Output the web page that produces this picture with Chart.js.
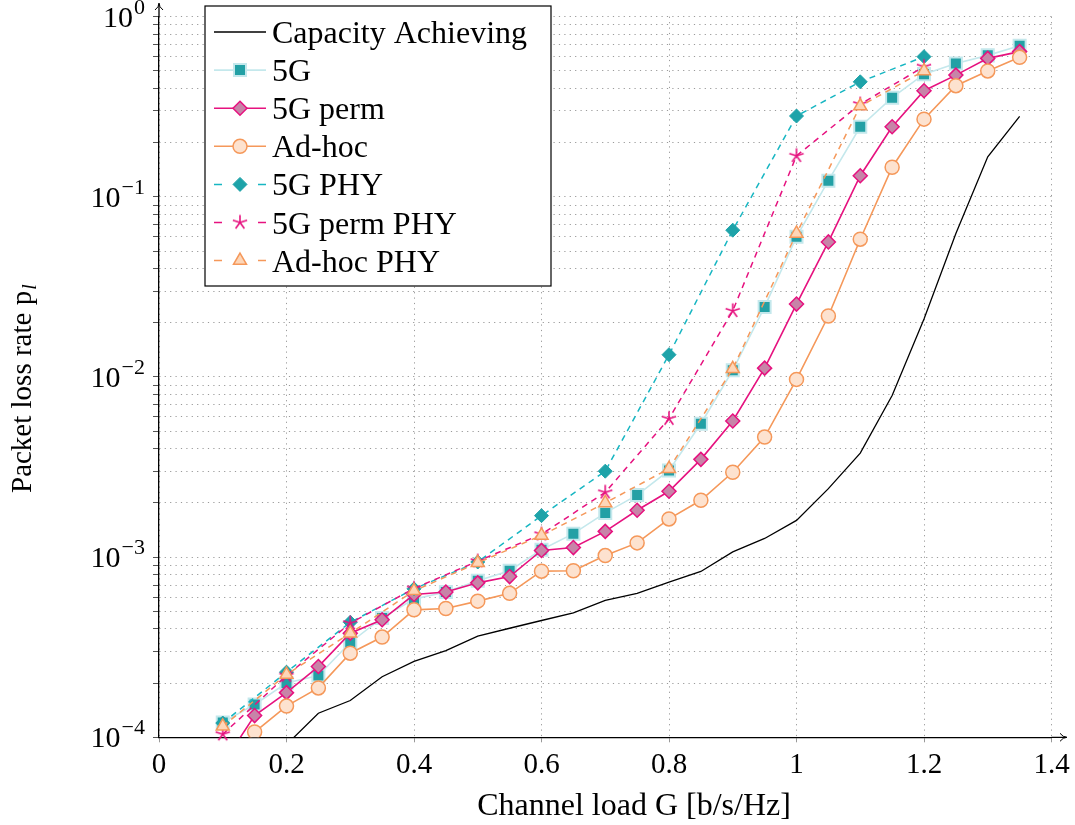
<!DOCTYPE html>
<html>
<head>
<meta charset="utf-8">
<script src="https://cdn.jsdelivr.net/npm/chart.js@4/dist/chart.umd.min.js"></script>
<style>
  html, body { margin: 0; padding: 0; background: #fff; }
</style>
</head>
<body>
<canvas id="lossChart" width="1075" height="825"></canvas>
<script>
// channel load G [b/s/Hz]
const loadG = [0.1, 0.15, 0.2, 0.25, 0.3, 0.35, 0.4, 0.45, 0.5, 0.55, 0.6, 0.65, 0.7,
  0.75, 0.8, 0.85, 0.9, 0.95, 1.0, 1.05, 1.1, 1.15, 1.2, 1.25, 1.3, 1.35];
const loadPhy = [0.1, 0.2, 0.3, 0.4, 0.5, 0.6, 0.7, 0.8, 0.9, 1.0, 1.1, 1.2];
const loadCap = [0.2, 0.25, 0.3, 0.35, 0.4, 0.45, 0.5, 0.55, 0.6, 0.65, 0.7, 0.75,
  0.8, 0.85, 0.9, 0.95, 1.0, 1.05, 1.1, 1.15, 1.2, 1.25, 1.3, 1.35];

// packet loss rate
const capacity = [9.1e-5, 1.36e-4, 1.6e-4, 2.17e-4, 2.64e-4, 3.03e-4, 3.64e-4, 4.03e-4,
  4.45e-4, 4.91e-4, 5.75e-4, 6.3e-4, 7.26e-4, 8.33e-4, 1.07e-3, 1.27e-3, 1.6e-3, 2.4e-3,
  3.78e-3, 7.9e-3, 2.1e-2, 6.26e-2, 0.167, 0.28];
const fiveG = [1.21e-4, 1.52e-4, 2.0e-4, 2.2e-4, 3.36e-4, 4.6e-4, 5.85e-4, 6.4e-4, 7.4e-4,
  8.4e-4, 1.1e-3, 1.35e-3, 1.76e-3, 2.21e-3, 3.03e-3, 5.5e-3, 1.09e-2, 2.45e-2, 0.06,
  0.123, 0.245, 0.355, 0.48, 0.55, 0.61, 0.69];
const fiveGPerm = [7.1e-5, 1.32e-4, 1.77e-4, 2.47e-4, 3.78e-4, 4.49e-4, 6.2e-4, 6.4e-4,
  7.2e-4, 7.8e-4, 1.09e-3, 1.13e-3, 1.39e-3, 1.82e-3, 2.32e-3, 3.49e-3, 5.7e-3, 1.12e-2,
  2.54e-2, 0.0562, 0.131, 0.245, 0.388, 0.474, 0.587, 0.64];
const adHoc = [7e-5, 1.07e-4, 1.49e-4, 1.88e-4, 2.93e-4, 3.6e-4, 5.1e-4, 5.19e-4, 5.7e-4,
  6.3e-4, 8.36e-4, 8.4e-4, 1.02e-3, 1.2e-3, 1.63e-3, 2.07e-3, 2.96e-3, 4.64e-3, 9.7e-3,
  2.18e-2, 0.0582, 0.146, 0.27, 0.414, 0.5, 0.595];
const fiveGPhy = [1.2e-4, 2.3e-4, 4.35e-4, 6.67e-4, 9.4e-4, 1.7e-3, 3.0e-3, 1.33e-2,
  0.0653, 0.281, 0.435, 0.6];
const fiveGPermPhy = [1.04e-4, 2.2e-4, 4.3e-4, 6.7e-4, 9.5e-4, 1.34e-3, 2.29e-3, 5.87e-3,
  2.33e-2, 0.169, 0.327, 0.528];
const adHocPhy = [1.15e-4, 2.23e-4, 3.78e-4, 6.5e-4, 9.3e-4, 1.32e-3, 2.0e-3, 3.1e-3,
  1.11e-2, 0.0626, 0.319, 0.5];

const xTicks = [0, 0.2, 0.4, 0.6, 0.8, 1, 1.2, 1.4];
const yDecades = [-4, -3, -2, -1, 0];

const serif = "'Liberation Serif', 'DejaVu Serif', serif";
const pts = (xs, ys) => xs.map((x, i) => ({ x, y: ys[i] }));

// 5-spoke asterisk like the pgfplots "star" mark
function makeStar(color) {
  const c = document.createElement("canvas");
  c.width = 18; c.height = 18;
  const g = c.getContext("2d");
  g.strokeStyle = color; g.lineWidth = 1.6;
  g.beginPath();
  for (let k = 0; k < 5; k++) {
    const a = -Math.PI / 2 + k * 2 * Math.PI / 5;
    g.moveTo(9, 9);
    g.lineTo(9 + 7.5 * Math.cos(a), 9 + 7.5 * Math.sin(a));
  }
  g.stroke();
  return c;
}
const starMark = makeStar("#e6127f");

const series = [
  { label: "Capacity Achieving", data: pts(loadCap, capacity), borderColor: "#000",
    borderWidth: 1.3, pointRadius: 0 },
  { label: "5G", data: pts(loadG, fiveG), borderColor: "#c4e8ec", borderWidth: 1.6,
    pointStyle: "rect", pointRadius: 8.5, pointBackgroundColor: "#23a0a5",
    pointBorderColor: "#c4e8ec", pointBorderWidth: 2 },
  { label: "5G perm", data: pts(loadG, fiveGPerm), borderColor: "#e6127f", borderWidth: 1.6,
    pointStyle: "rectRot", pointRadius: 7, pointBackgroundColor: "#c784a8",
    pointBorderColor: "#e6127f", pointBorderWidth: 1.5 },
  { label: "Ad-hoc", data: pts(loadG, adHoc), borderColor: "#f5985a", borderWidth: 1.6,
    pointStyle: "circle", pointRadius: 7, pointBackgroundColor: "#fde2cf",
    pointBorderColor: "#f5985a", pointBorderWidth: 1.5 },
  { label: "5G PHY", data: pts(loadPhy, fiveGPhy), borderColor: "#17b6c2", borderWidth: 1.5,
    borderDash: [6, 5], pointStyle: "rectRot", pointRadius: 7,
    pointBackgroundColor: "#1ea3a9", pointBorderColor: "#1ea3a9", pointBorderWidth: 1 },
  { label: "5G perm PHY", data: pts(loadPhy, fiveGPermPhy), borderColor: "#e6127f",
    borderWidth: 1.5, borderDash: [6, 5], pointStyle: starMark, pointRadius: 7,
    pointBackgroundColor: "#e6127f", pointBorderColor: "#e6127f", pointBorderWidth: 1.6 },
  { label: "Ad-hoc PHY", data: pts(loadPhy, adHocPhy), borderColor: "#f5985a",
    borderWidth: 1.5, borderDash: [6, 5], pointStyle: "triangle", pointRadius: 7.5,
    pointBackgroundColor: "#fdd6b8", pointBorderColor: "#f5985a", pointBorderWidth: 1.5 }
];

function drawMark(ctx, ds, x, y) {
  const st = ds.pointStyle, r = ds.pointRadius;
  if (!st || !r) return;
  ctx.save();
  if (st instanceof HTMLCanvasElement) {
    ctx.drawImage(st, x - st.width / 2, y - st.height / 2);
    ctx.restore();
    return;
  }
  ctx.fillStyle = ds.pointBackgroundColor;
  ctx.strokeStyle = ds.pointBorderColor;
  ctx.lineWidth = ds.pointBorderWidth;
  ctx.beginPath();
  if (st === "rect") {
    const s = r * Math.SQRT1_2;
    ctx.rect(x - s, y - s, 2 * s, 2 * s);
  } else if (st === "rectRot") {
    ctx.moveTo(x, y - r); ctx.lineTo(x + r, y); ctx.lineTo(x, y + r); ctx.lineTo(x - r, y);
    ctx.closePath();
  } else if (st === "circle") {
    ctx.arc(x, y, r, 0, Math.PI * 2);
  } else if (st === "triangle") {
    for (let k = 0; k < 3; k++) {
      const a = -Math.PI / 2 + k * 2 * Math.PI / 3;
      k ? ctx.lineTo(x + r * Math.cos(a), y + r * Math.sin(a))
        : ctx.moveTo(x + r * Math.cos(a), y + r * Math.sin(a));
    }
    ctx.closePath();
  }
  ctx.fill();
  ctx.stroke();
  ctx.restore();
}

const decorations = {
  id: "decorations",
  afterDraw(chart) {
    const { ctx, chartArea: a, scales } = chart;
    ctx.save();

    // axis extensions with arrow heads
    ctx.strokeStyle = "#000";
    ctx.lineWidth = 1.3;
    ctx.beginPath();
    ctx.moveTo(a.right, a.bottom); ctx.lineTo(1066, a.bottom);
    ctx.moveTo(a.left, a.top); ctx.lineTo(a.left, 4);
    ctx.stroke();
    ctx.lineWidth = 1;
    ctx.beginPath();
    ctx.moveTo(1060, a.bottom - 4); ctx.quadraticCurveTo(1063, a.bottom, 1067, a.bottom);
    ctx.quadraticCurveTo(1063, a.bottom, 1060, a.bottom + 4);
    ctx.moveTo(a.left - 4, 10); ctx.quadraticCurveTo(a.left, 7, a.left, 3);
    ctx.quadraticCurveTo(a.left, 7, a.left + 4, 10);
    ctx.stroke();

    // y tick labels 10^k
    ctx.fillStyle = "#000";
    ctx.textBaseline = "alphabetic";
    yDecades.forEach(e => {
      const y = scales.y.getPixelForValue(Math.pow(10, e));
      const sup = e === 0 ? "0" : "\u2212" + Math.abs(e);
      ctx.font = "22px " + serif;
      const sw = ctx.measureText(sup).width;
      const right = 145;
      ctx.textAlign = "left";
      ctx.fillText(sup, right - sw, y - 3);
      ctx.font = "30px " + serif;
      ctx.textAlign = "right";
      ctx.fillText("10", right - sw - 1, y + 10);
    });
    ctx.textAlign = "left";

    // axis titles
    ctx.font = "32px " + serif;
    ctx.textAlign = "center";
    ctx.fillText("Channel load G [b/s/Hz]", 634, 815);
    ctx.save();
    ctx.translate(31, 493);
    ctx.rotate(-Math.PI / 2);
    ctx.textAlign = "left";
    ctx.font = "29px " + serif;
    const main = "Packet loss rate p";
    ctx.fillText(main, 0, 0);
    const mw = ctx.measureText(main).width;
    ctx.font = "italic 20px " + serif;
    ctx.fillText("l", mw + 1, 5);
    ctx.restore();

    // legend
    const bx = 205, by = 6, bw = 346, bh = 280;
    ctx.fillStyle = "#fff";
    ctx.fillRect(bx, by, bw, bh);
    ctx.strokeStyle = "#000";
    ctx.lineWidth = 1.2;
    ctx.strokeRect(bx, by, bw, bh);
    series.forEach((ds, i) => {
      const cy = 32 + i * 38.1;
      ctx.save();
      ctx.strokeStyle = ds.borderColor;
      ctx.lineWidth = ds.borderWidth;
      ctx.setLineDash(ds.borderDash ? [8, 36] : []);
      ctx.beginPath();
      ctx.moveTo(214, cy); ctx.lineTo(266, cy);
      ctx.stroke();
      ctx.restore();
      drawMark(ctx, ds, 240, cy);
      ctx.fillStyle = "#000";
      ctx.font = "32px " + serif;
      ctx.textAlign = "left";
      ctx.fillText(ds.label, 272, cy + 11);
    });
    ctx.restore();
  }
};

new Chart(document.getElementById("lossChart").getContext("2d"), {
  type: "line",
  data: {
    datasets: series.map((s, i) => Object.assign({}, s, {
      fill: false, tension: 0, order: series.length - i,
      clip: i === 5 ? { left: 10, top: 10, right: 10, bottom: 8 } : undefined
    }))
  },
  options: {
    responsive: false,
    animation: false,
    events: [],
    layout: { padding: { left: 0, top: 16.7, right: 23.5, bottom: 0 } },
    plugins: { legend: { display: false }, tooltip: { enabled: false } },
    scales: {
      x: {
        type: "linear", min: 0, max: 1.4,
        afterBuildTicks: s => { s.ticks = xTicks.map(v => ({ value: v })); },
        afterFit: s => { s.height = 825 - 737.3; s.paddingLeft = 0; s.paddingRight = 0; },
        ticks: {
          callback: v => String(v), color: "#000", padding: 6, maxRotation: 0,
          font: { family: serif, size: 29 }
        },
        grid: { color: "#9a9a9a", tickColor: "#999", tickLength: 5 },
        border: { color: "#000", width: 1.3, dash: [1.2, 4.2] }
      },
      y: {
        type: "logarithmic", min: 1e-4, max: 1,
        afterBuildTicks: s => {
          const t = [];
          yDecades.forEach(e => {
            for (let m = 1; m <= (e === 0 ? 1 : 9); m++) t.push({ value: m * Math.pow(10, e) });
          });
          s.ticks = t;
        },
        afterFit: s => { s.width = 159; s.paddingTop = 0; s.paddingBottom = 0; },
        ticks: { display: false },
        grid: { color: "#9a9a9a", tickColor: "#555", tickLength: 6 },
        border: { color: "#000", width: 1.3, dash: [1.2, 4.2] }
      }
    }
  },
  plugins: [decorations]
});
</script>
</body>
</html>
